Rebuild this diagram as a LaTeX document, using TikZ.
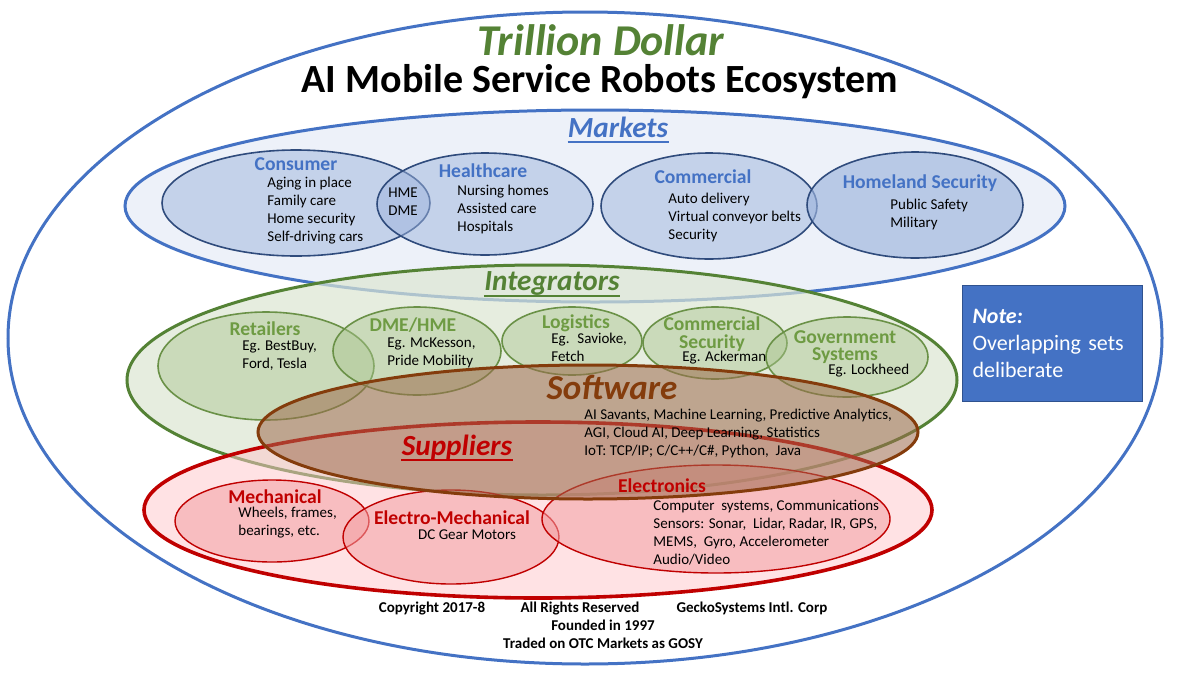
\documentclass[tikz,border=0pt]{standalone}
\usepackage{fontspec}
\setmainfont{Carlito}

\definecolor{ringblue}{HTML}{4472C4}
\definecolor{mktfill}{HTML}{EDF1F9}
\definecolor{setblue}{HTML}{9DB4DD}
\definecolor{navy}{HTML}{2F4B7C}
\definecolor{leaf}{HTML}{548235}
\definecolor{leaflight}{HTML}{DCE6D2}
\definecolor{setgreen}{HTML}{A9C48F}
\definecolor{greenline}{HTML}{6A9147}
\definecolor{greentxt}{HTML}{6E9B43}
\definecolor{rust}{HTML}{843C0C}
\definecolor{rustfill}{HTML}{9E6B4E}
\definecolor{brick}{HTML}{C00000}
\definecolor{pinkfill}{HTML}{FFC7CB}
\definecolor{setred}{HTML}{F4A0A4}
\definecolor{noteline}{HTML}{2F528F}

\begin{document}
\begin{tikzpicture}[x=0.5pt,y=-0.5pt,
  head/.style={font=\bfseries\fontsize{9.8}{8.8}\selectfont, align=center, inner sep=0pt},
  item/.style={font=\fontsize{7.5}{9}\selectfont, align=left, anchor=north west, inner sep=0pt},
  big/.style={font=\bfseries\itshape\fontsize{14.6}{16}\selectfont, inner sep=0pt, anchor=base},
  uline/.style={line width=1pt},
  foot/.style={font=\bfseries\fontsize{7.5}{8}\selectfont, inner sep=0pt},
  ring/.style={line width=1.5pt},
  mktset/.style={draw=navy, line width=0.8pt, fill=setblue, fill opacity=0.5},
  intset/.style={draw=greenline, line width=0.8pt, fill=setgreen, fill opacity=0.45},
  supset/.style={draw=brick, line width=0.7pt, fill=setred, fill opacity=0.55}]
\fill[white] (0,0) rectangle (1200,675);
\useasboundingbox (0,0) rectangle (1200,675);

% sets
\draw[ring, draw=ringblue] (585,338) ellipse [x radius=577, y radius=326];
\draw[ring, draw=ringblue, fill=mktfill] (595,206) ellipse [x radius=470, y radius=96];
\draw[mktset] (296,203) ellipse [x radius=134, y radius=53];
\draw[mktset] (485,204) ellipse [x radius=108, y radius=51];
\draw[mktset] (709,206) ellipse [x radius=108, y radius=53];
\draw[mktset, fill opacity=0.65] (915,205) ellipse [x radius=108, y radius=53];
\draw[ring, draw=leaf, fill=leaflight, fill opacity=0.7] (542,380) ellipse [x radius=415, y radius=115];
\draw[intset] (266,366) ellipse [x radius=108, y radius=54];
\draw[intset] (417,351) ellipse [x radius=84, y radius=44];
\draw[intset] (572,341) ellipse [x radius=70, y radius=34];
\draw[intset] (715,343) ellipse [x radius=72, y radius=36];
\draw[intset] (847,357) ellipse [x radius=81, y radius=40];
\draw[line width=1.8pt, draw=brick, fill=pinkfill, fill opacity=0.5] (538,510) ellipse [x radius=394, y radius=88];
\draw[supset] (272,521) ellipse [x radius=97, y radius=41];
\draw[supset] (451,537) ellipse [x radius=108, y radius=47];
\draw[supset] (716,519) ellipse [x radius=174, y radius=54];
\draw[ring, draw=rust, fill=rustfill, fill opacity=0.55] (588,432) ellipse [x radius=330, y radius=67];

% headings
\node[font=\bfseries\itshape\fontsize{22}{24}\selectfont, text=leaf, inner sep=0pt, anchor=base] (title) at (601,55) {Trillion Dollar};
\node[font=\bfseries\fontsize{20}{22}\selectfont, inner sep=0pt, anchor=base] (subtitle) at (600,92) {AI Mobile Service Robots Ecosystem};
\node[big, text=ringblue] (markets) at (618,137) {Markets};
\node[big, text=leaf] (integrators) at (552,290) {Integrators};
\node[big, text=rust, font=\bfseries\itshape\fontsize{17.5}{18}\selectfont] (software) at (612,399) {Software};
\node[big, text=brick] (suppliers) at (457,455) {Suppliers};
\draw[uline, draw=ringblue] ([yshift=-2.6pt]markets.base west) -- ([yshift=-2.6pt]markets.base east);
\draw[uline, draw=leaf] ([yshift=-2.8pt]integrators.base west) -- ([yshift=-2.8pt]integrators.base east);
\draw[uline, draw=brick] ([yshift=-2.4pt]suppliers.base west) -- ([yshift=-2.4pt]suppliers.base east);

% markets
\node[head, text=ringblue] (consumer) at (296,164) {Consumer};
\node[item] (consumerlist) at (267,177) {Aging in place\\Family care\\Home security\\Self-driving cars};
\node[font=\fontsize{7.5}{9}\selectfont, align=center, inner sep=0pt] (hmedme) at (403,202) {HME\\DME};
\node[head, text=ringblue] (healthcare) at (483,171) {Healthcare};
\node[item] (healthlist) at (457,185) {Nursing homes\\Assisted care\\Hospitals};
\node[head, text=ringblue] (commercial) at (703,177) {Commercial};
\node[item] (commerciallist) at (668,193) {Auto delivery\\Virtual conveyor belts\\Security};
\node[head, text=ringblue] (homeland) at (920,183) {Homeland Security};
\node[item] (homelandlist) at (890,199) {Public Safety\\Military};

% integrators
\node[head, text=greentxt] (retailers) at (265,329) {Retailers};
\node[item] (retailerslist) at (242,340) {Eg. BestBuy,\\Ford, Tesla};
\node[head, text=greentxt] (dmehme) at (413,325) {DME/HME};
\node[item] (dmehmelist) at (387,337) {Eg. McKesson,\\Pride Mobility};
\node[head, text=greentxt] (logistics) at (576,323) {Logistics};
\node[item] (logisticslist) at (551,333) {Eg.~ Savioke,\\Fetch};
\node[head, text=greentxt] (comsec) at (712,334) {Commercial\\Security};
\node[item] (comseclist) at (682,351) {Eg. Ackerman};
\node[head, text=greentxt] (govsys) at (845,347) {Government\\Systems};
\node[item] (govsyslist) at (828,364) {Eg. Lockheed};

% software
\node[item] (softlist) at (584,409) {AI Savants, Machine Learning, Predictive Analytics,\\AGI, Cloud AI, Deep Learning, Statistics\\IoT: TCP/IP; C/C++/C\#, Python,~ Java};

% suppliers
\node[head, text=brick] (mechanical) at (275,497) {Mechanical};
\node[item] (mechlist) at (238,507) {Wheels, frames,\\bearings, etc.};
\node[head, text=brick] (electromech) at (452,518) {Electro-Mechanical};
\node[font=\fontsize{7.5}{9}\selectfont, inner sep=0pt] (electromechlist) at (467,535) {DC Gear Motors};
\node[head, text=brick] (electronics) at (662,486) {Electronics};
\node[item] (electronicslist) at (653,500) {Computer~ systems, Communications\\Sensors: Sonar,~ Lidar, Radar, IR, GPS,\\MEMS,~ Gyro, Accelerometer\\Audio/Video};

% note
\node[fill=ringblue, draw=noteline, line width=0.5pt, anchor=north west, minimum width=87.5pt, minimum height=58pt,
  text width=80pt, inner xsep=5pt, align=left, text=white, font=\fontsize{11}{13.5}\selectfont] (note) at (962,285)
  {\textbf{\textit{Note:}}\\Overlapping sets\\deliberate};

% footer
\node[foot] (copyright) at (432,608) {Copyright 2017-8};
\node[foot] (rights) at (580,608) {All Rights Reserved};
\node[foot] (gecko) at (752,608) {GeckoSystems Intl. Corp};
\node[foot] (founded) at (603,625) {Founded in 1997};
\node[foot] (traded) at (603,643) {Traded on OTC Markets as GOSY};
\end{tikzpicture}
\end{document}
